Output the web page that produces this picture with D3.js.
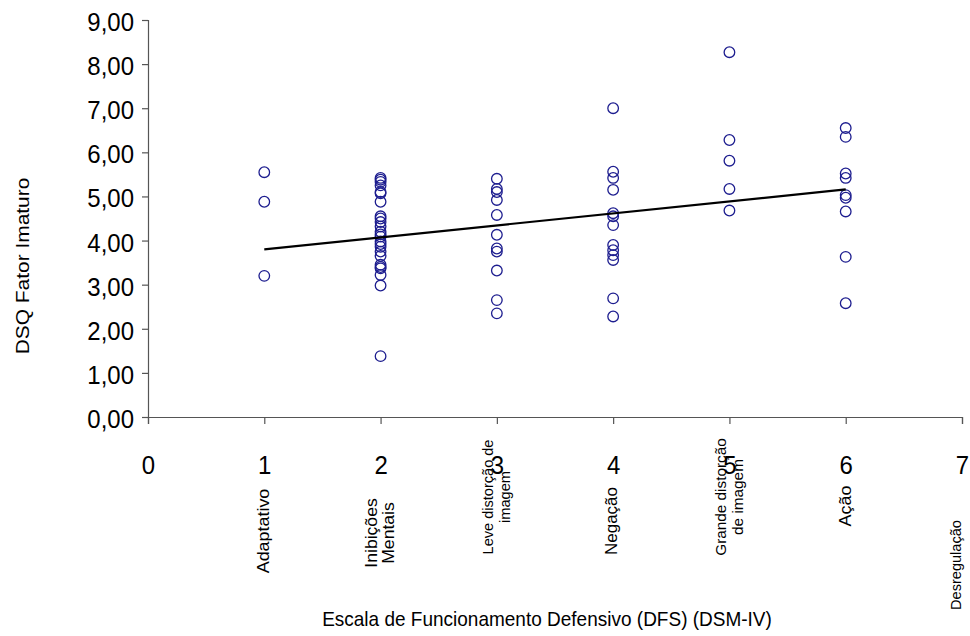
<!DOCTYPE html>
<html>
<head>
<meta charset="utf-8">
<script src="https://cdn.jsdelivr.net/npm/d3@7/dist/d3.min.js"></script>
<style>
  html, body { margin: 0; padding: 0; background: #fff; }
  svg { display: block; }
  text { font-family: "Liberation Sans", Arial, sans-serif; fill: #000; }
</style>
</head>
<body>
<svg id="chart" width="970" height="636"></svg>
<script>
// ---- data ----
const groupX = [1, 2, 3, 4, 5, 6];
const valuesAdaptativo = [5.55, 4.88, 3.20];
const valuesInibicoes = [5.42, 5.38, 5.33, 5.25, 5.10, 5.07, 4.88, 4.55, 4.50, 4.42, 4.32, 4.20, 4.14, 4.09, 3.98, 3.92, 3.86, 3.75, 3.65, 3.45, 3.40, 3.37, 3.22, 2.98, 1.38];
const valuesLeve = [5.40, 5.17, 5.10, 4.92, 4.58, 4.13, 3.82, 3.75, 3.32, 2.65, 2.35];
const valuesNegacao = [7.00, 5.56, 5.42, 5.15, 4.62, 4.55, 4.35, 3.90, 3.78, 3.67, 3.56, 2.69, 2.28];
const valuesGrande = [8.27, 6.28, 5.81, 5.17, 4.68];
const valuesAcao = [6.55, 6.35, 5.52, 5.42, 5.03, 4.97, 4.66, 3.63, 2.58];
const groupValues = [valuesAdaptativo, valuesInibicoes, valuesLeve, valuesNegacao, valuesGrande, valuesAcao];
const trendX = [1, 6];
const trendY = [3.80, 5.16];
const xTicks = [0, 1, 2, 3, 4, 5, 6, 7];
const yTicks = [0, 1, 2, 3, 4, 5, 6, 7, 8, 9];
const categoryX = [1, 2, 3, 4, 5, 6, 7];
const categoryLabels = [["Adaptativo"], ["Inibições", "Mentais"], ["Leve distorção de", "imagem"], ["Negação"], ["Grande distorção", "de imagem"], ["Ação"], ["Desregulação"]];
const xTitle = "Escala de Funcionamento Defensivo (DFS) (DSM-IV)";
const yTitle = "DSQ Fator Imaturo";

// ---- layout ----
const SY = 1.1;                       // vertical stretch of the glyphs
const labelCenterY = [531, 533, 497, 521, 497, 506, 565];
const labelSize = [16, 16, 15.5, 16, 15.5, 16, 15.5];
const labelStretch = [1.12, 1.1, 0.94, 1.06, 0.99, 1.12, 0.94];
const labelShiftX = [5, 5, 5, 4, 5, 5, -1];
const plot = { left: 148, right: 962, top: 20, bottom: 417 };

const svg = d3.select("#chart");
const x = d3.scaleLinear().domain([0, 7]).range([plot.left, plot.right]);
const y = d3.scaleLinear().domain([0, 9]).range([plot.bottom, plot.top]);
const fmt = d => d.toFixed(2).replace(".", ",");

// y axis
const gy = svg.append("g").attr("transform", `translate(${plot.left},0)`)
  .call(d3.axisLeft(y).tickValues(yTicks).tickSize(6).tickFormat(fmt));
gy.selectAll("text")
  .attr("x", null).attr("y", null).attr("dy", null)
  .attr("transform", `translate(-14,10.5) scale(1,${SY})`)
  .style("font-size", "24px").style("font-family", "Liberation Sans, Arial, sans-serif")
  .attr("fill", "#000");

// x axis
const gx = svg.append("g").attr("transform", `translate(0,${plot.bottom})`)
  .call(d3.axisBottom(x).tickValues(xTicks).tickSize(7).tickFormat(d3.format("d")));
gx.selectAll("text")
  .attr("x", null).attr("y", null).attr("dy", null)
  .attr("transform", `translate(0,57) scale(1,${SY})`)
  .style("font-size", "24px").style("font-family", "Liberation Sans, Arial, sans-serif")
  .attr("fill", "#000");

[gx, gy].forEach(g => {
  g.select(".domain").attr("stroke", "#555").attr("stroke-width", 1.2);
  g.selectAll(".tick line").attr("stroke", "#555").attr("stroke-width", 1.2);
});

// points
const points = [];
groupX.forEach((gxv, i) => groupValues[i].forEach(v => points.push({ x: gxv, y: v })));
svg.append("g").selectAll("circle").data(points).join("circle")
  .attr("cx", d => x(d.x)).attr("cy", d => y(d.y)).attr("r", 5.3)
  .attr("fill", "none").attr("stroke", "#1d1d8f").attr("stroke-width", 1.3);

// trend line
svg.append("path")
  .datum(trendX.map((v, i) => [v, trendY[i]]))
  .attr("d", d3.line().x(d => x(d[0])).y(d => y(d[1])))
  .attr("fill", "none").attr("stroke", "#000").attr("stroke-width", 2.2);

// category labels (rotated)
const lineGap = 17;
categoryLabels.forEach((lines, i) => {
  const cx = x(categoryX[i]);
  const n = lines.length;
  lines.forEach((ln, j) => {
    const bx = cx + labelShiftX[i] + (j - (n - 1) / 2) * lineGap;
    svg.append("text")
      .attr("transform", `translate(${bx},${labelCenterY[i]}) rotate(-90) scale(${labelStretch[i]},1)`)
      .attr("text-anchor", "middle").style("font-size", labelSize[i] + "px")
      .text(ln);
  });
});

// titles
svg.append("text")
  .attr("transform", `translate(547,626) scale(1,${SY})`)
  .attr("text-anchor", "middle").style("font-size", "19px")
  .text(xTitle);
svg.append("text")
  .attr("transform", `translate(29,266) rotate(-90) scale(${SY},1)`)
  .attr("text-anchor", "middle").style("font-size", "19px")
  .text(yTitle);
</script>
</body>
</html>
